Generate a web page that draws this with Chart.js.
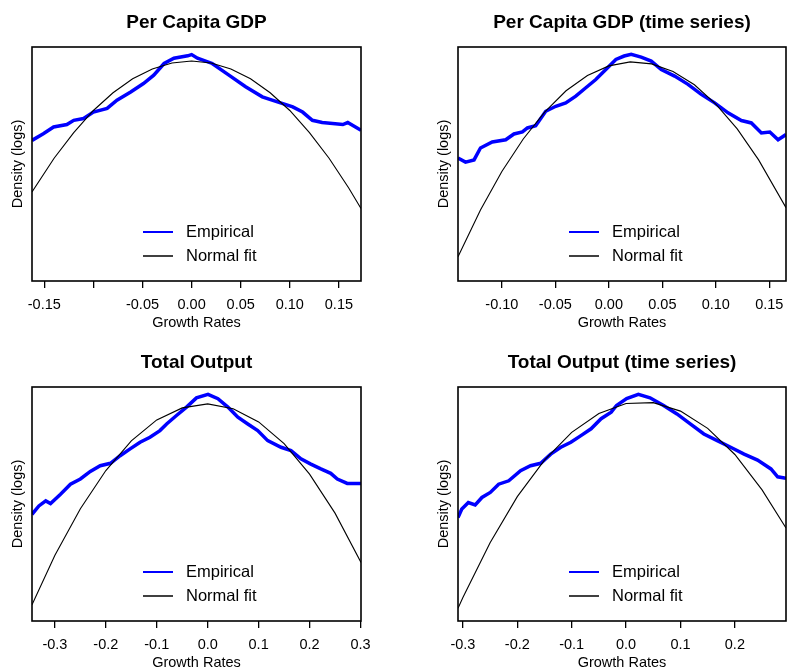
<!DOCTYPE html>
<html>
<head>
<meta charset="utf-8">
<script src="https://cdn.jsdelivr.net/npm/chart.js@4"></script>
<style>
  body { margin: 0; background: #fff; width: 787px; height: 670px; overflow: hidden; position: relative; }
  canvas { position: absolute; }
</style>
</head>
<body>
<canvas id="c1" width="393" height="330" style="left:0;top:0"></canvas>
<canvas id="c2" width="361" height="330" style="left:426px;top:0"></canvas>
<canvas id="c3" width="393" height="330" style="left:0;top:340px"></canvas>
<canvas id="c4" width="361" height="330" style="left:426px;top:340px"></canvas>
<script>
// Per Capita GDP
const pcGdpEmpX = [-0.1625, -0.151, -0.1405, -0.127, -0.120, -0.110, -0.100, -0.086, -0.076, -0.062, -0.049, -0.0385, -0.028, -0.018, -0.004, 0.000, 0.006, 0.021, 0.038, 0.055, 0.072, 0.089, 0.103, 0.113, 0.123, 0.133, 0.154, 0.159, 0.1725];
const pcGdpEmpY = [-0.125, 0.04, 0.21, 0.27, 0.375, 0.42, 0.58, 0.67, 0.875, 1.08, 1.29, 1.5, 1.79, 1.92, 1.98, 2.01, 1.92, 1.79, 1.5, 1.21, 0.96, 0.82, 0.71, 0.58, 0.375, 0.32, 0.27, 0.32, 0.125];
const pcGdpNormX = [-0.1625, -0.14, -0.12, -0.10, -0.08, -0.06, -0.04, -0.02, 0, 0.02, 0.04, 0.06, 0.08, 0.10, 0.12, 0.14, 0.16, 0.1725];
const pcGdpNormY = [-1.41, -0.57, 0.07, 0.62, 1.06, 1.41, 1.65, 1.80, 1.85, 1.80, 1.65, 1.41, 1.06, 0.62, 0.07, -0.57, -1.31, -1.82];
const pcGdpTicks = [-0.15, -0.10, -0.05, 0, 0.05, 0.10, 0.15];
const pcGdpTickLabels = ["-0.15", "", "-0.05", "0.00", "0.05", "0.10", "0.15"];

// Per Capita GDP (time series)
const pcTsEmpX = [-0.141, -0.134, -0.126, -0.120, -0.109, -0.0964, -0.0887, -0.0808, -0.0761, -0.0684, -0.059, -0.0496, -0.0403, -0.0309, -0.0215, -0.0122, -0.0028, 0.0066, 0.0143, 0.0209, 0.0302, 0.0396, 0.049, 0.0615, 0.074, 0.0864, 0.0989, 0.1114, 0.1239, 0.1332, 0.1426, 0.1505, 0.1582, 0.1656];
const pcTsEmpY = [-0.565, -0.665, -0.61, -0.315, -0.165, -0.11, 0.035, 0.085, 0.185, 0.24, 0.6, 0.725, 0.81, 0.975, 1.185, 1.39, 1.64, 1.89, 1.975, 2.02, 1.95, 1.85, 1.64, 1.475, 1.27, 1.02, 0.81, 0.56, 0.37, 0.31, 0.06, 0.085, -0.11, 0.02];
const pcTsNormX = [-0.141, -0.12, -0.10, -0.08, -0.06, -0.04, -0.02, 0, 0.02, 0.04, 0.06, 0.08, 0.10, 0.12, 0.14, 0.1656];
const pcTsNormY = [-3.02, -1.86, -0.90, -0.09, 0.58, 1.11, 1.49, 1.73, 1.83, 1.78, 1.59, 1.26, 0.78, 0.16, -0.61, -1.80];
const pcTsTicks = [-0.10, -0.05, 0, 0.05, 0.10, 0.15];
const pcTsTickLabels = ["-0.10", "-0.05", "0.00", "0.05", "0.10", "0.15"];

// Total Output
const totEmpX = [-0.345, -0.3315, -0.318, -0.3086, -0.289, -0.2695, -0.25, -0.2305, -0.211, -0.191, -0.1719, -0.1523, -0.1328, -0.1133, -0.0938, -0.0807, -0.0613, -0.0416, -0.0221, 0.0006, 0.0201, 0.0396, 0.0592, 0.0787, 0.0982, 0.1178, 0.144, 0.1635, 0.183, 0.2025, 0.2221, 0.2416, 0.2545, 0.274, 0.301];
const totEmpY = [-0.97, -0.76, -0.635, -0.70, -0.47, -0.22, -0.09, 0.10, 0.24, 0.30, 0.49, 0.66, 0.825, 0.95, 1.115, 1.28, 1.49, 1.70, 1.93, 2.015, 1.91, 1.70, 1.45, 1.28, 1.115, 0.865, 0.70, 0.615, 0.41, 0.28, 0.16, 0.05, -0.09, -0.20, -0.20];
const totNormX = [-0.345, -0.30, -0.25, -0.20, -0.15, -0.10, -0.05, 0, 0.05, 0.10, 0.15, 0.20, 0.25, 0.301];
const totNormY = [-3.22, -1.99, -0.83, 0.12, 0.86, 1.38, 1.68, 1.78, 1.66, 1.33, 0.79, 0.03, -0.94, -2.17];
const totTicks = [-0.3, -0.2, -0.1, 0, 0.1, 0.2, 0.3];
const totTickLabels = ["-0.3", "-0.2", "-0.1", "0.0", "0.1", "0.2", "0.3"];

// Total Output (time series)
const totTsEmpX = [-0.309, -0.302, -0.290, -0.2774, -0.265, -0.2496, -0.2343, -0.2157, -0.194, -0.1756, -0.157, -0.1385, -0.12, -0.1015, -0.083, -0.0644, -0.0459, -0.0274, -0.0176, 0.001, 0.0226, 0.044, 0.0689, 0.0935, 0.118, 0.143, 0.1676, 0.1922, 0.217, 0.2417, 0.2663, 0.2787, 0.294];
const totTsEmpY = [-1.05, -0.84, -0.675, -0.735, -0.55, -0.425, -0.22, -0.135, 0.115, 0.24, 0.30, 0.53, 0.70, 0.825, 0.99, 1.16, 1.41, 1.575, 1.74, 1.91, 2.015, 1.93, 1.74, 1.53, 1.28, 1.03, 0.865, 0.70, 0.53, 0.38, 0.16, -0.035, -0.07];
const totTsNormX = [-0.309, -0.30, -0.25, -0.20, -0.15, -0.10, -0.05, 0, 0.05, 0.10, 0.15, 0.20, 0.25, 0.294];
const totTsNormY = [-3.31, -3.04, -1.675, -0.53, 0.38, 1.07, 1.54, 1.79, 1.81, 1.60, 1.17, 0.52, -0.36, -1.31];
const totTsTicks = [-0.3, -0.2, -0.1, 0, 0.1, 0.2];
const totTsTickLabels = ["-0.3", "-0.2", "-0.1", "0.0", "0.1", "0.2"];

const yMin = -3.625;
const yMax = 2.2;
const FONT = '"Liberation Sans", Arial, sans-serif';

// caja negra alrededor del area de dibujo
const boxPlugin = {
  id: "box",
  afterDraw(chart) {
    const { ctx, chartArea: a } = chart;
    ctx.save();
    ctx.strokeStyle = "#000";
    ctx.lineWidth = 1.6;
    ctx.strokeRect(a.left, a.top, a.right - a.left, a.bottom - a.top);
    ctx.restore();
  },
};

// leyenda dentro del grafico, como en R
const insideLegend = {
  id: "insideLegend",
  afterDatasetsDraw(chart) {
    const { ctx, chartArea: a } = chart;
    ctx.save();
    ctx.font = "16.5px " + FONT;
    ctx.textBaseline = "middle";
    chart.data.datasets.forEach((ds, i) => {
      const y = a.top + 185 + i * 24;
      ctx.strokeStyle = ds.borderColor;
      ctx.lineWidth = i === 0 ? 2 : 1.5;
      ctx.beginPath();
      ctx.moveTo(a.left + 111, y);
      ctx.lineTo(a.left + 141, y);
      ctx.stroke();
      ctx.fillStyle = "#000";
      ctx.fillText(ds.label, a.left + 154, y);
    });
    ctx.restore();
  },
};

function pairs(xs, ys) {
  return xs.map((x, i) => ({ x: x, y: ys[i] }));
}

function makePanel(id, title, empX, empY, normX, normY, xMin, xMax, ticks, tickLabels, padRight) {
  const ctx = document.getElementById(id).getContext("2d");
  return new Chart(ctx, {
    type: "scatter",
    data: {
      datasets: [
        {
          label: "Empirical",
          data: pairs(empX, empY),
          showLine: true,
          borderColor: "#0000ff",
          borderWidth: 3.5,
          pointRadius: 0,
          order: 1,
        },
        {
          label: "Normal fit",
          data: pairs(normX, normY),
          showLine: true,
          borderColor: "#000000",
          borderWidth: 1.1,
          pointRadius: 0,
          order: 0,
        },
      ],
    },
    options: {
      responsive: false,
      animation: false,
      devicePixelRatio: 1,
      layout: { padding: { top: 0, left: 0, bottom: 0, right: padRight } },
      plugins: {
        legend: { display: false },
        tooltip: { enabled: false },
        title: {
          display: true,
          text: title,
          color: "#000",
          fullSize: false,
          font: { family: FONT, size: 19, weight: "bold" },
          padding: { top: 11, bottom: 13.2 },
        },
      },
      scales: {
        x: {
          type: "linear",
          min: xMin,
          max: xMax,
          afterFit: (s) => {
            s.height = 49;
            s.paddingLeft = 0;
            s.paddingRight = 0;
          },
          afterBuildTicks: (s) => { s.ticks = ticks.map((v) => ({ value: v })); },
          grid: { display: true, drawOnChartArea: false, drawTicks: true, tickLength: 7, color: "#000", lineWidth: 1.3 },
          border: { display: false },
          ticks: {
            autoSkip: false,
            maxRotation: 0,
            padding: 8,
            color: "#000",
            font: { family: FONT, size: 14.5 },
            callback: (v, i) => tickLabels[i],
          },
          title: {
            display: true,
            text: "Growth Rates",
            color: "#000",
            font: { family: FONT, size: 14.5, lineHeight: 1 },
            padding: { top: 0, bottom: 0 },
          },
        },
        y: {
          type: "linear",
          min: yMin,
          max: yMax,
          afterFit: (s) => { s.width = 32; },
          grid: { display: false },
          border: { display: false },
          ticks: { display: false },
          title: {
            display: true,
            text: "Density (logs)",
            color: "#000",
            font: { family: FONT, size: 14.5, lineHeight: 1 },
            padding: { top: 10.5, bottom: 0 },
          },
        },
      },
    },
    plugins: [boxPlugin, insideLegend],
  });
}

makePanel("c1", "Per Capita GDP", pcGdpEmpX, pcGdpEmpY, pcGdpNormX, pcGdpNormY, -0.1625, 0.1725, pcGdpTicks, pcGdpTickLabels, 32);
makePanel("c2", "Per Capita GDP (time series)", pcTsEmpX, pcTsEmpY, pcTsNormX, pcTsNormY, -0.141, 0.1656, pcTsTicks, pcTsTickLabels, 1);
makePanel("c3", "Total Output", totEmpX, totEmpY, totNormX, totNormY, -0.345, 0.301, totTicks, totTickLabels, 32);
makePanel("c4", "Total Output (time series)", totTsEmpX, totTsEmpY, totTsNormX, totTsNormY, -0.309, 0.294, totTsTicks, totTsTickLabels, 1);
</script>
</body>
</html>
